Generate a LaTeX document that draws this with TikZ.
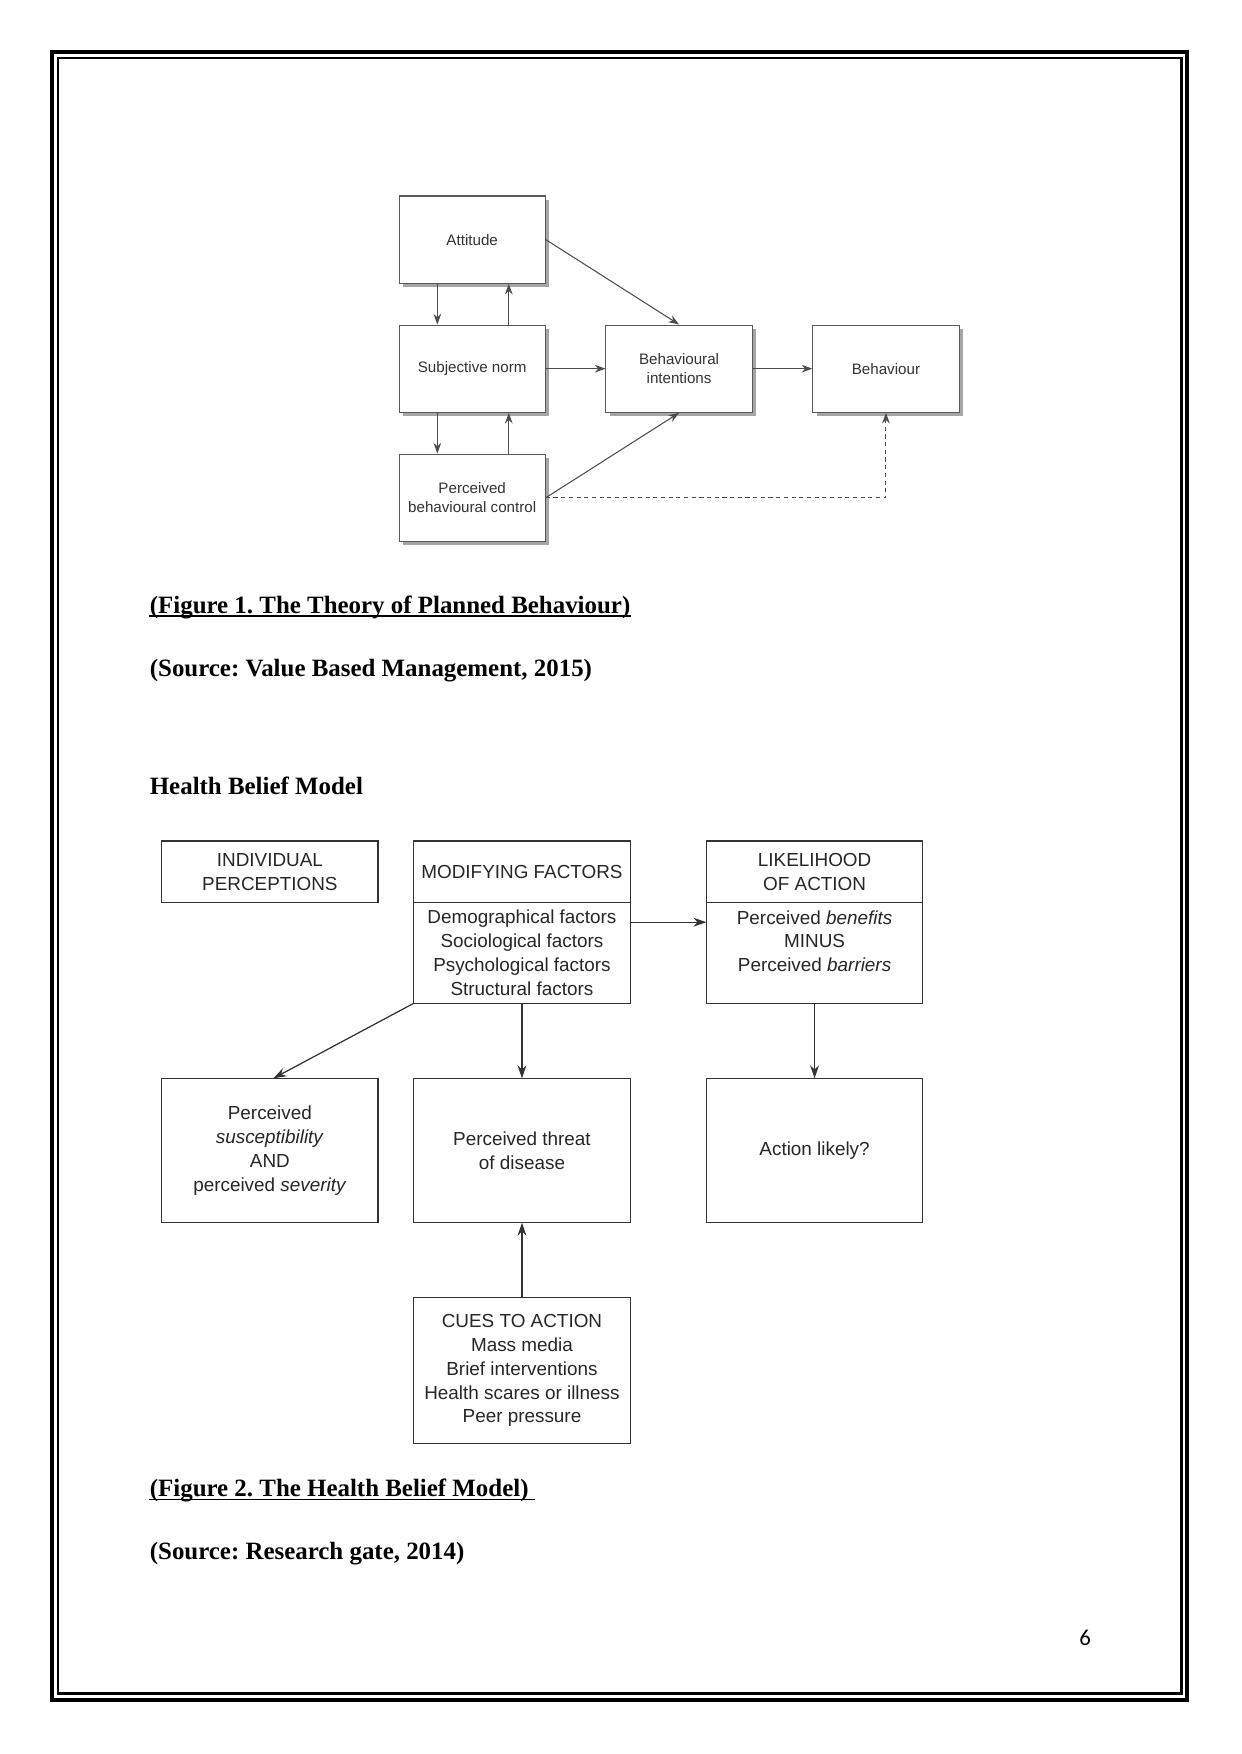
\documentclass[tikz,border=0pt]{standalone}
\usepackage{fontspec}
\setmainfont{Liberation Serif}
\newfontfamily\diagfont{Liberation Sans}
\newfontfamily\pagefont{Carlito}
\usetikzlibrary{positioning}
\usetikzlibrary{shadows}
\usetikzlibrary{arrows.meta}
\frenchspacing

\begin{document}
\begin{tikzpicture}[
tpbbox/.style={rectangle, draw=black!65, fill=white, line width=0.5pt, minimum width=24.75mm, minimum height=14.78mm, inner sep=0.5mm, align=center, text=black!80, font=\diagfont\fontsize{7.3}{9}\selectfont, drop shadow={shadow xshift=0.65mm, shadow yshift=-0.65mm, fill=black!35, opacity=1}},
tpbarrow/.style={draw=black!70, line width=0.5pt, -{Stealth[length=1.8mm, width=1.3mm]}},
hbmbox/.style={rectangle, draw=black!80, line width=0.6pt, minimum width=36.64mm, inner sep=0.3mm, outer sep=0pt, align=center, text=black!85, font=\diagfont\fontsize{9.1}{11.5}\selectfont},
hbmarrow/.style={draw=black!80, line width=0.6pt, -{Stealth[length=2.2mm, width=1.5mm]}},
caption/.style={anchor=base west, inner sep=0pt, font=\bfseries\fontsize{12}{14}\selectfont},
underline/.style={line width=0.5pt},
]
\useasboundingbox (0,0) rectangle (210.1mm,-296.95mm);

\draw[line width=1.9pt] (8.8mm,-8.8mm) rectangle (201mm,-287.76mm);
\draw[line width=1.3pt] (9.82mm,-9.82mm) rectangle (200mm,-286.68mm);

\node[tpbbox] (attitude) at (79.94mm,-40.57mm) {Attitude};
\node[tpbbox] (subjnorm) [below=6.89mm of attitude] {Subjective norm};
\node[tpbbox] (control) [below=6.89mm of subjnorm] {Perceived\\behavioural control};
\node[tpbbox] (intention) [right=10.1mm of subjnorm] {Behavioural\\intentions};
\node[tpbbox] (behaviour) [right=10.1mm of intention] {Behaviour};

\node[caption] (figonecap) at (25.3mm,-103.83mm) {(Figure 1. The Theory of Planned Behaviour)};
\node[caption] (figonesrc) at (25.3mm,-114.57mm) {(Source: Value Based Management, 2015)};
\node[caption] (hbmtitle) at (25.3mm,-134.59mm) {Health Belief Model};

\node[hbmbox, minimum height=10.45mm] (indiv) at (45.69mm,-147.6mm) {INDIVIDUAL\\PERCEPTIONS};
\node[hbmbox, minimum height=10.45mm] (modhead) [right=6.04mm of indiv] {MODIFYING FACTORS};
\node[hbmbox, minimum height=17.03mm] (modbody) [below=0mm of modhead] {Demographical factors\\Sociological factors\\Psychological factors\\Structural factors};
\node[hbmbox, minimum height=10.45mm] (likehead) [right=12.9mm of modhead] {LIKELIHOOD\\OF ACTION};
\node[hbmbox, minimum height=17.03mm] (likebody) [below=0mm of likehead] {Perceived \textit{benefits}\\MINUS\\Perceived \textit{barriers}\\\phantom{X}};
\node[hbmbox, minimum height=24.45mm] (threat) [below=12.7mm of modbody] {Perceived threat\\of disease};
\node[hbmbox, minimum height=24.45mm] (suscept) [left=6.04mm of threat] {Perceived\\\textit{susceptibility}\\AND\\perceived \textit{severity}};
\node[hbmbox, minimum height=24.45mm] (likely) [below=12.7mm of likebody] {Action likely?};
\node[hbmbox, minimum height=24.65mm] (cues) [below=12.7mm of threat] {CUES TO ACTION\\Mass media\\Brief interventions\\Health scares or illness\\Peer pressure};

\node[caption] (figtwocap) at (25.3mm,-253.39mm) {(Figure 2. The Health Belief Model)};
\node[caption] (figtwosrc) at (25.3mm,-264.1mm) {(Source: Research gate, 2014)};
\node[font=\pagefont\fontsize{11}{13}\selectfont] (pagenum) at (183.7mm,-277.3mm) {6};

\draw[underline] ([yshift=-1.3pt]figonecap.base west) -- ([yshift=-1.3pt]figonecap.base east);
\draw[underline] ([yshift=-1.3pt]figtwocap.base west) -- ([xshift=3pt,yshift=-1.3pt]figtwocap.base east);

\draw[tpbarrow] ([xshift=-5.9mm]attitude.south) -- ([xshift=-5.9mm]subjnorm.north);
\draw[tpbarrow] ([xshift=6.2mm]subjnorm.north) -- ([xshift=6.2mm]attitude.south);
\draw[tpbarrow] ([xshift=-5.9mm]subjnorm.south) -- ([xshift=-5.9mm]control.north);
\draw[tpbarrow] ([xshift=6.2mm]control.north) -- ([xshift=6.2mm]subjnorm.south);
\draw[tpbarrow] (attitude.east) -- (intention.north);
\draw[tpbarrow] (subjnorm.east) -- (intention.west);
\draw[tpbarrow] (control.east) -- (intention.south);
\draw[tpbarrow] (intention.east) -- (behaviour.west);
\draw[tpbarrow, dash pattern=on 0.7mm off 0.6mm] (control.east) -| (behaviour.south);

\draw[hbmarrow] ([yshift=-3.3mm]modbody.north east) -- ([yshift=-3.3mm]likebody.north west);
\draw[hbmarrow] (modbody.south west) -- ([xshift=0.6mm]suscept.north);
\draw[hbmarrow] (modbody.south) -- (threat.north);
\draw[hbmarrow] (likebody.south) -- (likely.north);
\draw[hbmarrow] (cues.north) -- (threat.south);
\end{tikzpicture}
\end{document}
